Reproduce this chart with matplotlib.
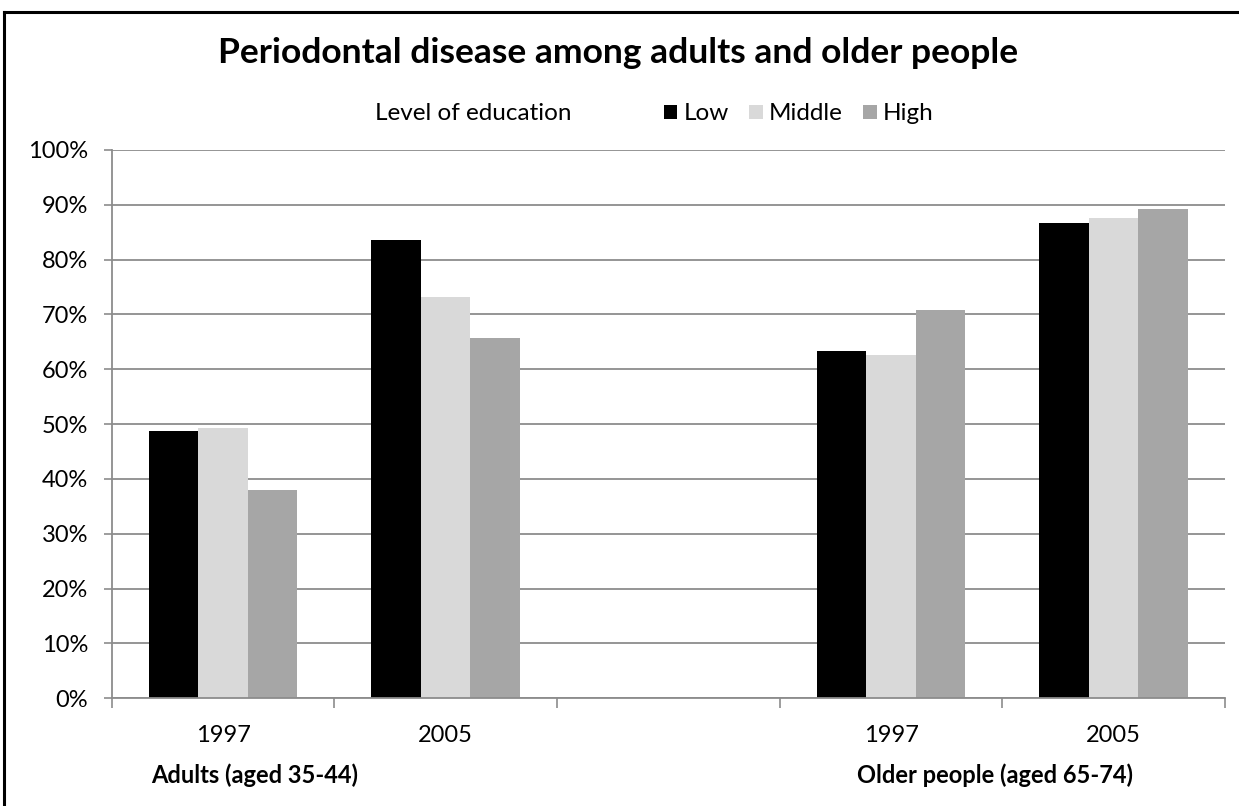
import matplotlib.pyplot as plt
from matplotlib.lines import Line2D
from matplotlib.patches import Patch
import numpy as np

# slot 2 is an empty spacer between the two age groups
years = ['1997', '2005', '', '1997', '2005']
low = [48.7, 83.5, np.nan, 63.3, 86.7]
middle = [49.3, 73.2, np.nan, 62.6, 87.6]
high = [37.9, 65.7, np.nan, 70.9, 89.2]
levels = ['Low', 'Middle', 'High']
colors = ['#000000', '#d9d9d9', '#a6a6a6']
groups = ['Adults (aged 35-44)', 'Older people (aged 65-74)']

plt.rcParams['font.family'] = ['Lato', 'DejaVu Sans']

W, H = 1239, 806
fig = plt.figure(figsize=(W / 100, H / 100), dpi=100)
ax = fig.add_axes([111.7 / W, 1 - 698.3 / H, (1225 - 111.7) / W, (698.3 - 150) / H])

x = np.arange(len(years))
width = 1 / 4.5
for i, (vals, c) in enumerate(zip([low, middle, high], colors)):
    ax.bar(x + (i - 1) * width, vals, width, color=c, linewidth=0, zorder=2)

ax.set_xlim(-0.5, len(years) - 0.5)
ax.set_ylim(0, 100)
ax.set_yticks(np.arange(0, 101, 10))
ax.set_yticklabels(['{}%'.format(v) for v in range(0, 101, 10)], fontsize=17)
ax.yaxis.grid(True, color='#8c8c8c', linewidth=1.3, zorder=0)
ax.tick_params(axis='y', length=6, width=1.2, color='#8c8c8c', pad=11)

ax.set_xticks([0, 1, 3, 4])
ax.set_xticklabels([years[i] for i in [0, 1, 3, 4]], fontsize=17)
ax.set_xticks(np.arange(-0.5, len(years)), minor=True)
ax.tick_params(axis='x', which='major', length=0, pad=19)
ax.tick_params(axis='x', which='minor', length=7, width=1.2, color='#8c8c8c')

for side in ['top', 'right']:
    ax.spines[side].set_visible(False)
for side in ['left', 'bottom']:
    ax.spines[side].set_color('#8c8c8c')
    ax.spines[side].set_linewidth(1.3)

fig.text(618 / W, 1 - 53 / H, 'Periodontal disease among adults and older people',
         ha='center', va='center', fontsize=25.5, fontweight='bold')
fig.text(473 / W, 1 - 114 / H, 'Level of education', ha='center', va='center', fontsize=17.5)

handles = [Patch(facecolor=c, edgecolor='none') for c in colors]
fig.legend(handles, levels, loc='center left', bbox_to_anchor=(664 / W, 1 - 114 / H),
           ncol=3, frameon=False, fontsize=17.5, handlelength=0.55, handleheight=0.55,
           handletextpad=0.25, columnspacing=0.85, borderaxespad=0, borderpad=0)

fig.text(255 / W, 1 - 775 / H, groups[0], ha='center', va='center', fontsize=17, fontweight='bold')
fig.text(995 / W, 1 - 775 / H, groups[1], ha='center', va='center', fontsize=17, fontweight='bold')

# frame around the chart (only top and left edges fall inside the image)
top = 1 - 12 / H
left = 4 / W
fig.add_artist(Line2D([left, 1], [top, top], color='black', linewidth=2.2, transform=fig.transFigure))
fig.add_artist(Line2D([left, left], [0, top], color='black', linewidth=2.2, transform=fig.transFigure))

fig.savefig('out.png', dpi=100)
